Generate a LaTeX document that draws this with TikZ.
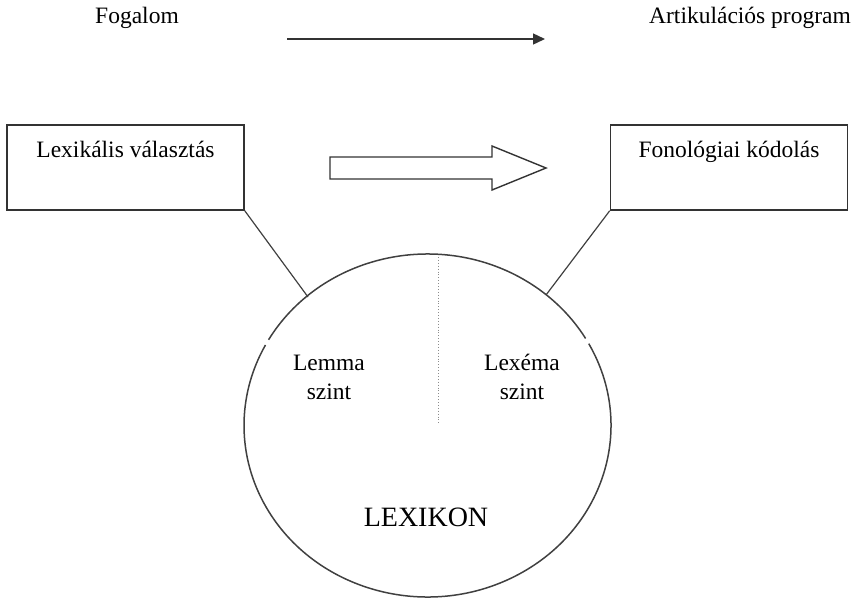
\documentclass[tikz,border=0pt]{standalone}
\usepackage{fontspec}
\setmainfont{Liberation Serif}
\usetikzlibrary{arrows.meta}
\tikzset{
  txt/.style={inner sep=0pt, font=\fontsize{23.5}{29}\selectfont, align=center},
  boxnode/.style={draw=black!80, line width=1.6pt, minimum width=237pt, minimum height=85pt, inner sep=0pt},
  conn/.style={draw=black!75, line width=1.2pt},
  ring/.style={draw=black!75, line width=1.5pt},
}
\begin{document}
\begin{tikzpicture}[x=1pt,y=-1pt]
\useasboundingbox (0,0) rectangle (857,603);
% top row
\node[txt] (fog) at (137,18) {Fogalom};
\node[txt] (art) at (750,18) {Artikulációs program};
\coordinate (a1) at (287,39);
\coordinate (a2) at (545,39);
\draw[line width=1.4pt, black!80, -{Triangle[length=12pt,width=11pt]}] (a1) -- (a2);
% boxes
\node[boxnode] (lex) at (125.5,167.5) {};
\node[txt, anchor=north] (lextxt) at ([yshift=-17pt]lex.north) {Lexikális választás};
\node[boxnode] (fon) at (729,167.5) {};
\node[txt, anchor=north] (fontxt) at ([yshift=-17pt]fon.north) {Fonológiai kódolás};
% block arrow
\draw[line width=1.4pt, black!80, line join=miter] (330,157) -- (492,157) -- (492,146) -- (546,168) -- (492,190) -- (492,179) -- (330,179) -- cycle;
% lexicon ellipse with small gaps
\coordinate (c) at (427.5,425.5);
\draw[ring] (c) ++(210:183.5 and 171.5) arc[start angle=210, end angle=329.5, x radius=183.5, y radius=171.5];
\draw[ring] (c) ++(331.5:183.5 and 171.5) arc[start angle=331.5, end angle=568, x radius=183.5, y radius=171.5];
% connectors
\coordinate (lc) at (308,297);
\coordinate (rc) at (546,295);
\draw[conn] (lex.south east) -- (lc);
\draw[conn] (fon.south west) -- (rc);
% dotted divider
\coordinate (d1) at (438,257);
\coordinate (d2) at (438,423);
\draw[black!45, line width=0.9pt, dotted] (d1) -- (d2);
% labels
\node[txt] (lemma) at (329,377) {Lemma\\szint};
\node[txt] (lexema) at (522,377) {Lexéma\\szint};
\node[inner sep=0pt, font=\fontsize{28}{32}\selectfont] (lexikon) at (426,517) {LEXIKON};
\end{tikzpicture}
\end{document}
